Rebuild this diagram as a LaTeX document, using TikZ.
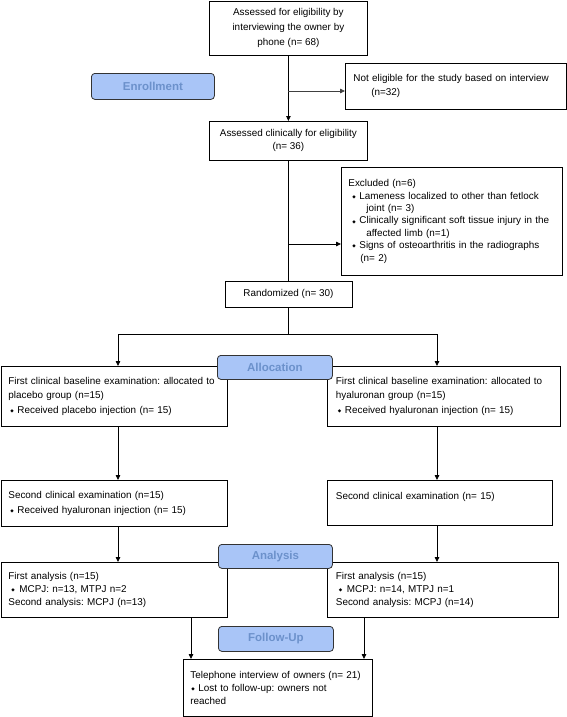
\documentclass[tikz,border=0pt]{standalone}
\usepackage{fontspec}
\setmainfont{Liberation Sans}
\newfontfamily\dejavu{DejaVu Sans}
\usetikzlibrary{arrows.meta}
\definecolor{lblfill}{HTML}{A9C5F7}
\definecolor{lbltext}{HTML}{6C91CB}
\newcommand\bul{\makebox[7pt][l]{\raisebox{0.8pt}{\dejavu\fontsize{4.5}{4.5}\selectfont ◆}}}
\frenchspacing
\begin{document}
\begin{tikzpicture}[x=1pt,y=-1pt,
 box/.style={draw, line width=0.8pt, inner sep=0pt, anchor=north west},
 lbox/.style={box, align=left},
 cbox/.style={box, align=center},
 fs/.style={font=\frenchspacing\fontsize{9.9}{#1}\selectfont},
 lbl/.style={draw=black!80, line width=0.8pt, rounded corners=3.5pt, fill=lblfill, text=lbltext, font=\fontsize{11.5}{13}\selectfont\bfseries, anchor=north west, inner sep=0pt},
 arr/.style={line width=0.8pt, -{Triangle[length=5pt,width=4.5pt]}},
 ln/.style={line width=0.8pt}]
\useasboundingbox (0,0) rectangle (567,717);

% boxes
\node[cbox, fs=15, minimum width=158pt, minimum height=54pt] (top) at (209,1)
  {Assessed for eligibility by\\interviewing the owner by\\phone (n= 68)};
\node[lbox, fs=14, minimum width=221pt, minimum height=46pt, text width=205pt, inner xsep=8pt] (notelig) at (345,63)
  {Not eligible for the study based on interview\\\hspace*{18pt}(n=32)};
\node[cbox, fs=13, minimum width=158pt, minimum height=39pt] (assessed) at (209,121)
  {Assessed clinically for eligibility\\(n= 36)};
\node[lbox, fs=12.4, minimum width=221pt, minimum height=108pt, text width=207pt, inner xsep=7pt] (excluded) at (341,167)
  {Excluded (n=6)\\
   \hspace*{4pt}\bul Lameness localized to other than fetlock\\
   \hspace*{18pt}joint (n= 3)\\
   \hspace*{4pt}\bul Clinically significant soft tissue injury in the\\
   \hspace*{18pt}affected limb (n=1)\\
   \hspace*{4pt}\bul Signs of osteoarthritis in the radiographs\\
   \hspace*{12pt}(n= 2)};
\node[cbox, fs=13, minimum width=127pt, minimum height=26pt] (rand) at (224.5,281)
  {Randomized (n= 30)};
\node[lbox, fs=14.5, minimum width=226.5pt, minimum height=60pt, text width=211.5pt, inner xsep=7.5pt] (L1) at (0.5,366)
  {First clinical baseline examination: allocated to\\placebo group (n=15)\\\hspace*{2pt}\bul Received placebo injection (n= 15)};
\node[lbox, fs=14.5, minimum width=233pt, minimum height=60pt, text width=216pt, inner xsep=8.5pt] (R1) at (327,366)
  {First clinical baseline examination: allocated to\\hyaluronan group (n=15)\\\hspace*{2pt}\bul Received hyaluronan injection (n= 15)};
\node[lbox, fs=14.5, minimum width=226.5pt, minimum height=46pt, text width=211.5pt, inner xsep=7.5pt] (L2) at (0.5,480)
  {Second clinical examination (n=15)\\\hspace*{2pt}\bul Received hyaluronan injection (n= 15)};
\node[lbox, fs=14.5, minimum width=225pt, minimum height=45pt, text width=208pt, inner xsep=8.5pt] (R2) at (327,480)
  {Second clinical examination (n= 15)\\\mbox{}};
\node[lbox, fs=13, minimum width=226.5pt, minimum height=55pt, text width=211.5pt, inner xsep=7.5pt] (L3) at (0.5,562)
  {First analysis (n=15)\\\hspace*{3pt}\bul\hspace{1pt}MCPJ: n=13, MTPJ n=2\\Second analysis: MCPJ (n=13)};
\node[lbox, fs=13, minimum width=231pt, minimum height=55pt, text width=214pt, inner xsep=8.5pt] (R3) at (327,562)
  {First analysis (n=15)\\\hspace*{3pt}\bul\hspace{1pt}MCPJ: n=14, MTPJ n=1\\Second analysis: MCPJ (n=14)};
\node[lbox, fs=13, minimum width=189pt, minimum height=57pt, text width=175pt, inner xsep=7pt] (bottom) at (183,659)
  {Telephone interview of owners (n= 21)\\\hspace*{1pt}\bul Lost to follow-up: owners not\\reached};

% connectors
\coordinate (b1) at (288,91);
\coordinate (b2) at (288,244);
\coordinate (split) at (288,334);
\coordinate (sl) at (118,334);
\coordinate (sr) at (437,334);
\coordinate (fl) at (191,640);
\coordinate (fr) at (364,640);
\draw[arr] (top.south) -- (assessed.north);
\draw[arr, black!75] (b1) -- (b1 -| notelig.west);
\draw[ln] (assessed.south) -- (assessed.south |- rand.north);
\draw[arr] (b2) -- (b2 -| excluded.west);
\draw[ln] (split |- rand.south) -- (split);
\draw[ln] (sl) -- (sr);
\draw[arr] (sl) -- (sl |- L1.north);
\draw[arr] (sr) -- (sr |- R1.north);
\draw[arr] (sl |- L1.south) -- (sl |- L2.north);
\draw[arr] (sr |- R1.south) -- (sr |- R2.north);
\draw[arr] (sl |- L2.south) -- (sl |- L3.north);
\draw[arr] (sr |- R2.south) -- (sr |- R3.north);
\draw[arr] (fl |- L3.south) -- (fl |- bottom.north);
\draw[arr] (fr |- R3.south) -- (fr |- bottom.north);

% phase labels
\node[lbl, minimum width=123pt, minimum height=26pt] (enroll) at (91,73) {Enrollment};
\node[lbl, minimum width=115pt, minimum height=24pt] (alloc) at (217,355) {Allocation};
\node[lbl, minimum width=114pt, minimum height=24pt] (analysis) at (218,544) {Analysis};
\node[lbl, minimum width=115pt, minimum height=25pt] (followup) at (218,626) {Follow-Up};
\end{tikzpicture}
\end{document}
